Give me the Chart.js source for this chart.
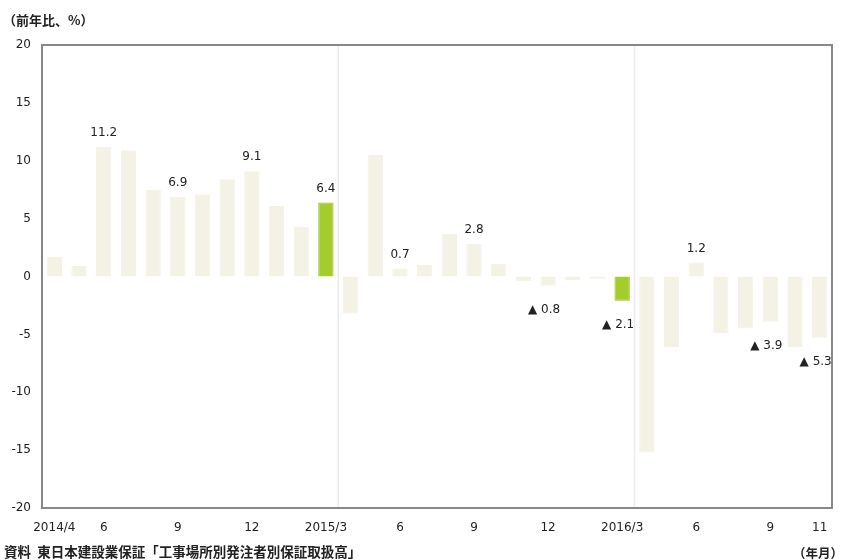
<!DOCTYPE html>
<html>
<head>
<meta charset="utf-8">
<script src="https://cdn.jsdelivr.net/npm/chart.js@4/dist/chart.umd.min.js"></script>
<style>
  html, body { margin: 0; padding: 0; background: #fff; }
  #wrap { position: relative; width: 842px; height: 560px; }
  canvas { position: absolute; left: 0; top: 0; }
  .note { position: absolute; font-family: "Noto Sans CJK JP", sans-serif; font-weight: bold; color: #222; white-space: nowrap; }
</style>
</head>
<body>
<div id="wrap">
  <canvas id="c" width="842" height="560"></canvas>
  <div class="note" style="left:3px; top:10px; font-size:13px;">（前年比、%）</div>
  <div class="note" style="left:4px; top:541px; font-size:13.5px;">資料&nbsp;&nbsp;東日本建設業保証「工事場所別発注者別保証取扱高」</div>
  <div class="note" style="left:793px; top:543px; font-size:12.5px;">（年月）</div>
</div>
<script>
// Monthly categories, 2014/4 to 2016/11
const months = [
  '2014/4','2014/5','2014/6','2014/7','2014/8','2014/9','2014/10','2014/11','2014/12',
  '2015/1','2015/2','2015/3','2015/4','2015/5','2015/6','2015/7','2015/8','2015/9','2015/10','2015/11','2015/12',
  '2016/1','2016/2','2016/3','2016/4','2016/5','2016/6','2016/7','2016/8','2016/9','2016/10','2016/11'
];

// Year-on-year change of guaranteed contract amount (%)
const yoyChange = [
  1.7, 0.9, 11.2, 10.9, 7.5, 6.9, 7.1, 8.4, 9.1,
  6.1, 4.3, 6.4, -3.2, 10.5, 0.7, 1.0, 3.7, 2.8, 1.1, -0.4, -0.8,
  -0.3, -0.2, -2.1, -15.2, -6.1, 1.2, -4.9, -4.5, -3.9, -6.1, -5.3
];

// Axis tick labels shown under the bars
const xTickLabels = {
  '2014/4': '2014/4', '2014/6': '6', '2014/9': '9', '2014/12': '12',
  '2015/3': '2015/3', '2015/6': '6', '2015/9': '9', '2015/12': '12',
  '2016/3': '2016/3', '2016/6': '6', '2016/9': '9', '2016/11': '11'
};
const yTicks = [20, 15, 10, 5, 0, -5, -10, -15, -20];

// Months whose value is printed next to the bar
const labelledMonths = ['2014/6','2014/9','2014/12','2015/3','2015/6','2015/9','2015/12','2016/3','2016/6','2016/9','2016/11'];
// Fiscal year-end months drawn in green
const highlightMonths = ['2015/3', '2016/3'];
// First month of each new fiscal year (a thin divider is drawn before it)
const fiscalStarts = ['2015/4', '2016/4'];

const paleFill = '#f3f2e5';
const greenFill = '#a2cd2c';

const frameAndLabels = {
  id: 'frameAndLabels',
  beforeDatasetsDraw(chart) {
    const { ctx, chartArea: a, scales: { x } } = chart;
    ctx.save();
    ctx.strokeStyle = '#ececec';
    ctx.lineWidth = 1.5;
    fiscalStarts.forEach(m => {
      const i = months.indexOf(m);
      const px = (x.getPixelForValue(i - 1) + x.getPixelForValue(i)) / 2;
      ctx.beginPath();
      ctx.moveTo(px, a.top);
      ctx.lineTo(px, a.bottom);
      ctx.stroke();
    });
    ctx.restore();
  },
  afterDatasetsDraw(chart) {
    const { ctx, chartArea: a } = chart;
    const meta = chart.getDatasetMeta(0);
    ctx.save();
    ctx.font = '12px "DejaVu Sans", sans-serif';
    ctx.fillStyle = '#222';
    ctx.textAlign = 'center';
    ctx.textBaseline = 'middle';
    labelledMonths.forEach(m => {
      const i = months.indexOf(m);
      const v = yoyChange[i];
      const bar = meta.data[i];
      if (v >= 0) {
        ctx.fillText(v.toFixed(1), bar.x, bar.y - 14);
      } else {
        ctx.fillText('▲ ' + Math.abs(v).toFixed(1), bar.x - 4, bar.y + 24);
      }
    });
    // plot frame
    ctx.strokeStyle = '#888';
    ctx.lineWidth = 2;
    ctx.strokeRect(a.left, a.top, a.right - a.left, a.bottom - a.top);
    ctx.restore();
  }
};

new Chart(document.getElementById('c'), {
  type: 'bar',
  data: {
    labels: months,
    datasets: [{
      data: yoyChange,
      backgroundColor: months.map(m => highlightMonths.includes(m) ? greenFill : paleFill),
      borderColor: months.map(m => highlightMonths.includes(m) ? '#96c226' : paleFill),
      borderWidth: 1,
      barPercentage: 0.62,
      categoryPercentage: 1.0
    }]
  },
  options: {
    responsive: false,
    animation: false,
    devicePixelRatio: 1,
    layout: { padding: { top: 45, right: 10, left: 0, bottom: 0 } },
    plugins: { legend: { display: false }, tooltip: { enabled: false } },
    scales: {
      x: {
        grid: { display: false, drawTicks: false },
        border: { display: false },
        afterFit(s) { s.height = 52; },
        ticks: {
          autoSkip: false, maxRotation: 0, minRotation: 0, padding: 13,
          color: '#222',
          font: { family: '"DejaVu Sans", sans-serif', size: 12 },
          callback: (v, i) => xTickLabels[months[i]] || ''
        }
      },
      y: {
        min: -20, max: 20,
        afterBuildTicks(s) { s.ticks = yTicks.map(v => ({ value: v })); },
        afterFit(s) { s.width = 42; },
        grid: { display: false, drawTicks: false },
        border: { display: false },
        ticks: {
          padding: 11,
          color: '#222',
          font: { family: '"DejaVu Sans", sans-serif', size: 12 }
        }
      }
    }
  },
  plugins: [frameAndLabels]
});
</script>
</body>
</html>
